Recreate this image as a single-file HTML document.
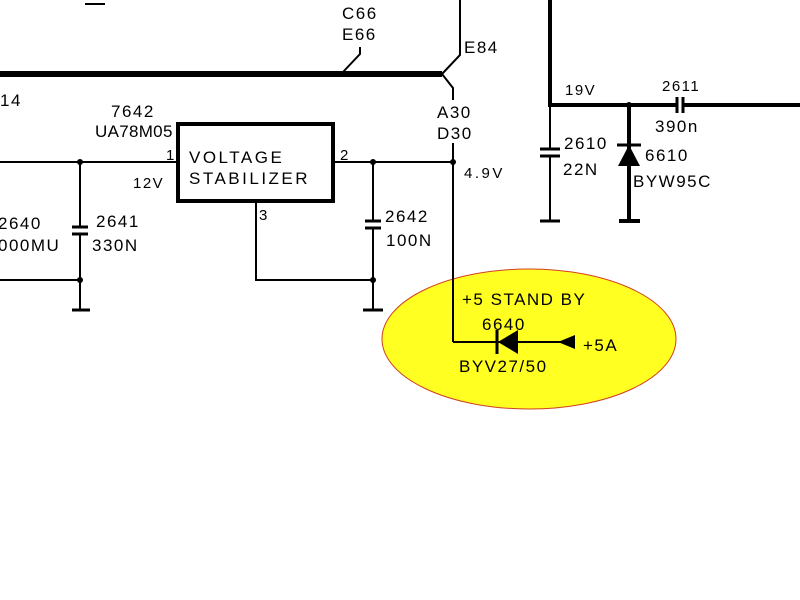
<!DOCTYPE html>
<html><head><style>body{margin:0;background:#fff}svg{display:block}text{font-family:"Liberation Sans",sans-serif;fill:#000;letter-spacing:1.5px}</style></head><body>
<svg width="800" height="600" viewBox="0 0 800 600" xmlns="http://www.w3.org/2000/svg">
<ellipse cx="529" cy="339" rx="147" ry="70" fill="#ffff22" stroke="#d04020" stroke-width="1"/>
<g stroke="#000" fill="none">
<line x1="0" y1="74" x2="442" y2="74" stroke-width="6"/>
<polyline points="442,74 460,55 460,0" stroke-width="2"/>
<polyline points="442,74 453,88 453,100" stroke-width="2"/>
<polyline points="343,72 360,54 360,47" stroke-width="2"/>
<line x1="85" y1="4" x2="105" y2="4" stroke-width="2"/>
<line x1="453" y1="143" x2="453" y2="342" stroke-width="2"/>
<line x1="453" y1="342" x2="500" y2="342" stroke-width="2"/>
<line x1="518" y1="342" x2="565" y2="342" stroke-width="2"/>
<line x1="0" y1="162" x2="176" y2="162" stroke-width="2"/>
<line x1="333" y1="162" x2="453" y2="162" stroke-width="2"/>
<rect x="178" y="124" width="155" height="77" stroke-width="4"/>
<polyline points="256,201 256,280 373,280" stroke-width="2"/>
<line x1="80" y1="162" x2="80" y2="227" stroke-width="2"/>
<line x1="80" y1="234" x2="80" y2="310" stroke-width="2"/>
<line x1="72" y1="227" x2="88" y2="227" stroke-width="3"/>
<line x1="72" y1="234" x2="88" y2="234" stroke-width="3"/>
<line x1="72" y1="310" x2="90" y2="310" stroke-width="3"/>
<line x1="0" y1="280" x2="80" y2="280" stroke-width="2"/>
<line x1="373" y1="162" x2="373" y2="221" stroke-width="2"/>
<line x1="373" y1="228" x2="373" y2="310" stroke-width="2"/>
<line x1="365" y1="221" x2="381" y2="221" stroke-width="3"/>
<line x1="365" y1="228" x2="381" y2="228" stroke-width="3"/>
<line x1="363" y1="310" x2="383" y2="310" stroke-width="3"/>
<line x1="550" y1="0" x2="550" y2="105" stroke-width="4"/>
<line x1="548" y1="105" x2="677" y2="105" stroke-width="4"/>
<line x1="683" y1="105" x2="800" y2="105" stroke-width="4"/>
<line x1="677" y1="97" x2="677" y2="113" stroke-width="3"/>
<line x1="683" y1="97" x2="683" y2="113" stroke-width="3"/>
<line x1="550" y1="105" x2="550" y2="149" stroke-width="2"/>
<line x1="550" y1="156" x2="550" y2="221" stroke-width="2"/>
<line x1="540" y1="149" x2="560" y2="149" stroke-width="3"/>
<line x1="540" y1="156" x2="560" y2="156" stroke-width="3"/>
<line x1="540" y1="221" x2="560" y2="221" stroke-width="3"/>
<line x1="629" y1="105" x2="629" y2="222" stroke-width="4"/>
<line x1="617" y1="145" x2="641" y2="145" stroke-width="3"/>
<line x1="619" y1="221" x2="640" y2="221" stroke-width="4"/>
<line x1="497" y1="330" x2="497" y2="354" stroke-width="3"/>
</g>
<g fill="#000">
<circle cx="80" cy="162" r="3"/><circle cx="80" cy="280" r="3"/>
<circle cx="373" cy="162" r="3"/><circle cx="373" cy="280" r="3"/>
<circle cx="453" cy="162" r="3"/><circle cx="629" cy="105" r="3"/>
<polygon points="629,145 618,166 640,166"/>
<polygon points="498,342 518,330 518,354"/>
<polygon points="558,342 575,335 575,349"/>
</g>
<g font-size="17">
<text x="342" y="19">C66</text><text x="342" y="40">E66</text>
<text x="464" y="53">E84</text>
<text x="0" y="106">14</text>
<text x="111" y="117">7642</text><text x="95" y="137" style="letter-spacing:0.3px">UA78M05</text>
<text x="189" y="163" style="letter-spacing:2.5px">VOLTAGE</text><text x="189" y="184" style="letter-spacing:2.5px">STABILIZER</text>
<text x="166" y="160" font-size="15">1</text><text x="340" y="160" font-size="15">2</text>
<text x="259" y="220" font-size="15">3</text>
<text x="133" y="188" font-size="15">12V</text>
<text x="437" y="118">A30</text><text x="437" y="139">D30</text>
<text x="464" y="178" font-size="15" style="letter-spacing:2.5px">4.9V</text>
<text x="-2" y="229">2640</text><text x="-2" y="251">000MU</text>
<text x="96" y="227">2641</text><text x="92" y="251">330N</text>
<text x="385" y="222">2642</text><text x="386" y="246">100N</text>
<text x="565" y="95" font-size="15">19V</text>
<text x="662" y="91" font-size="15">2611</text>
<text x="655" y="132">390n</text>
<text x="564" y="149">2610</text><text x="563" y="175">22N</text>
<text x="645" y="161">6610</text><text x="633" y="187">BYW95C</text>
<text x="462" y="305">+5 STAND BY</text>
<text x="482" y="330">6640</text>
<text x="583" y="351">+5A</text>
<text x="459" y="372">BYV27/50</text>
</g>
</svg>
</body></html>
